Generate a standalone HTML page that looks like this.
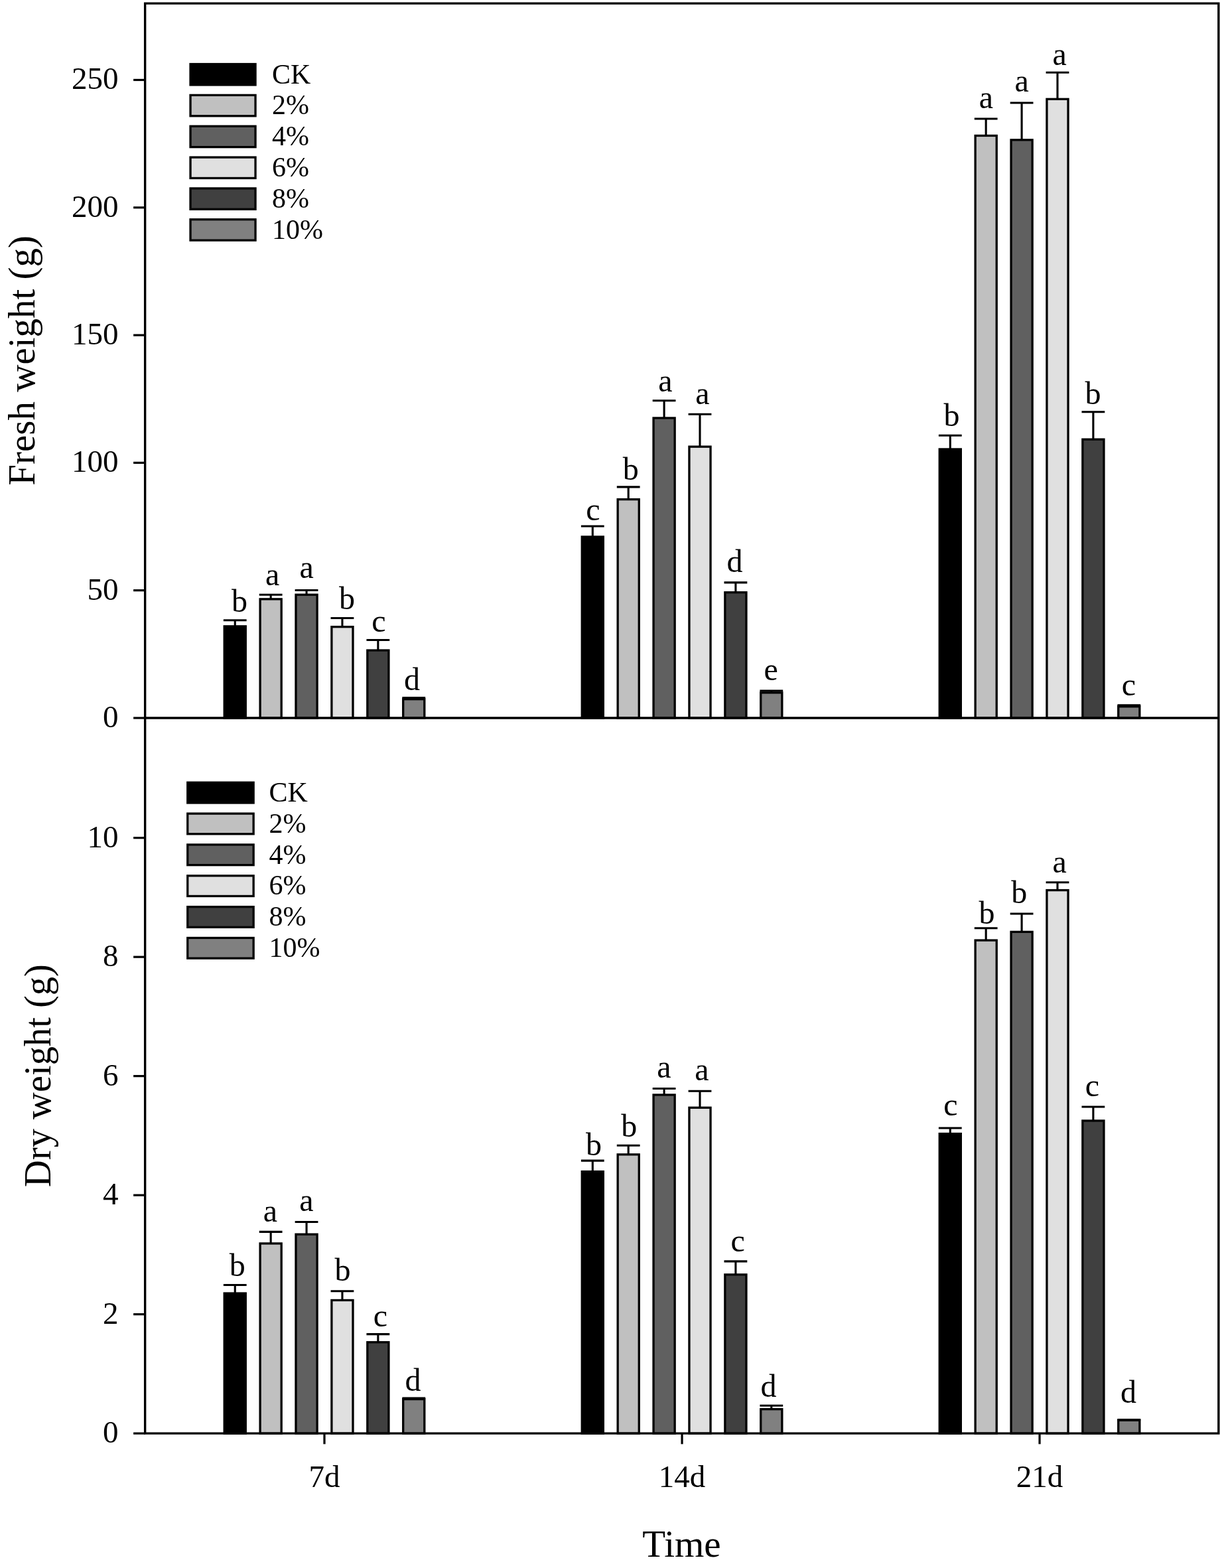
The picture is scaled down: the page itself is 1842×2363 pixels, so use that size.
<!DOCTYPE html>
<html><head><meta charset="utf-8"><title>Fresh and dry weight</title>
<style>html,body{margin:0;padding:0;background:#fff;}body{width:1842px;height:2363px;overflow:hidden;}svg{display:block;}
text{font-family:"Liberation Serif","Times New Roman",serif;fill:#000;}
.l{font-size:48px;text-anchor:middle;}
.t{font-size:47px;text-anchor:end;}
.x{font-size:47px;text-anchor:middle;}
.g{font-size:42px;}
.ti{font-size:57px;text-anchor:middle;}
.o{fill:none;stroke:#000;stroke-width:3.3;}
.e{stroke:#000;stroke-width:3.1;fill:none;}
.k{stroke:#000;stroke-width:3.2;fill:none;}
</style></head><body>
<svg width="1842" height="2363" viewBox="0 0 1842 2363">
<rect width="1842" height="2363" fill="#fff"/>
<rect x="338.2" y="943.85" width="32.1" height="138.15" fill="#000000"/>
<rect x="392.1" y="902.85" width="32.1" height="179.15" fill="#c0c0c0"/>
<rect x="446" y="896.25" width="32.1" height="185.75" fill="#606060"/>
<rect x="499.9" y="944.65" width="32.1" height="137.35" fill="#e0e0e0"/>
<rect x="553.8" y="980.05" width="32.1" height="101.95" fill="#404040"/>
<rect x="607.7" y="1053.65" width="32.1" height="28.35" fill="#808080"/>
<rect x="877.25" y="808.95" width="32.1" height="273.05" fill="#000000"/>
<rect x="931.15" y="752.55" width="32.1" height="329.45" fill="#c0c0c0"/>
<rect x="985.05" y="629.95" width="32.1" height="452.05" fill="#606060"/>
<rect x="1038.95" y="673.15" width="32.1" height="408.85" fill="#e0e0e0"/>
<rect x="1092.85" y="892.75" width="32.1" height="189.25" fill="#404040"/>
<rect x="1146.75" y="1043.85" width="32.1" height="38.15" fill="#808080"/>
<rect x="1416.25" y="676.95" width="32.1" height="405.05" fill="#000000"/>
<rect x="1470.15" y="204.45" width="32.1" height="877.55" fill="#c0c0c0"/>
<rect x="1524.05" y="210.85" width="32.1" height="871.15" fill="#606060"/>
<rect x="1577.95" y="149.35" width="32.1" height="932.65" fill="#e0e0e0"/>
<rect x="1631.85" y="662.15" width="32.1" height="419.85" fill="#404040"/>
<rect x="1685.75" y="1064.75" width="32.1" height="17.25" fill="#808080"/>
<line x1="354.25" y1="943.85" x2="354.25" y2="934.8" class="e"/>
<line x1="336.85" y1="934.8" x2="371.65" y2="934.8" class="e"/>
<line x1="408.15" y1="902.85" x2="408.15" y2="896.3" class="e"/>
<line x1="390.75" y1="896.3" x2="425.55" y2="896.3" class="e"/>
<line x1="462.05" y1="896.25" x2="462.05" y2="889.5" class="e"/>
<line x1="444.65" y1="889.5" x2="479.45" y2="889.5" class="e"/>
<line x1="515.95" y1="944.65" x2="515.95" y2="931.5" class="e"/>
<line x1="498.55" y1="931.5" x2="533.35" y2="931.5" class="e"/>
<line x1="569.85" y1="980.05" x2="569.85" y2="964.5" class="e"/>
<line x1="552.45" y1="964.5" x2="587.25" y2="964.5" class="e"/>
<line x1="623.75" y1="1053.65" x2="623.75" y2="1051.5" class="e"/>
<line x1="606.35" y1="1051.5" x2="641.15" y2="1051.5" class="e"/>
<line x1="893.3" y1="808.95" x2="893.3" y2="793" class="e"/>
<line x1="875.9" y1="793" x2="910.7" y2="793" class="e"/>
<line x1="947.2" y1="752.55" x2="947.2" y2="733.9" class="e"/>
<line x1="929.8" y1="733.9" x2="964.6" y2="733.9" class="e"/>
<line x1="1001.1" y1="629.95" x2="1001.1" y2="603.7" class="e"/>
<line x1="983.7" y1="603.7" x2="1018.5" y2="603.7" class="e"/>
<line x1="1055" y1="673.15" x2="1055" y2="624.2" class="e"/>
<line x1="1037.6" y1="624.2" x2="1072.4" y2="624.2" class="e"/>
<line x1="1108.9" y1="892.75" x2="1108.9" y2="877.9" class="e"/>
<line x1="1091.5" y1="877.9" x2="1126.3" y2="877.9" class="e"/>
<line x1="1162.8" y1="1043.85" x2="1162.8" y2="1041.05" class="e"/>
<line x1="1145.4" y1="1041.05" x2="1180.2" y2="1041.05" class="e"/>
<line x1="1432.3" y1="676.95" x2="1432.3" y2="656.2" class="e"/>
<line x1="1414.9" y1="656.2" x2="1449.7" y2="656.2" class="e"/>
<line x1="1486.2" y1="204.45" x2="1486.2" y2="179" class="e"/>
<line x1="1468.8" y1="179" x2="1503.6" y2="179" class="e"/>
<line x1="1540.1" y1="210.85" x2="1540.1" y2="155" class="e"/>
<line x1="1522.7" y1="155" x2="1557.5" y2="155" class="e"/>
<line x1="1594" y1="149.35" x2="1594" y2="109.2" class="e"/>
<line x1="1576.6" y1="109.2" x2="1611.4" y2="109.2" class="e"/>
<line x1="1647.9" y1="662.15" x2="1647.9" y2="620.8" class="e"/>
<line x1="1630.5" y1="620.8" x2="1665.3" y2="620.8" class="e"/>
<line x1="1701.8" y1="1064.75" x2="1701.8" y2="1062.75" class="e"/>
<line x1="1684.4" y1="1062.75" x2="1719.2" y2="1062.75" class="e"/>
<rect x="338.2" y="943.85" width="32.1" height="138.15" class="o"/>
<rect x="392.1" y="902.85" width="32.1" height="179.15" class="o"/>
<rect x="446" y="896.25" width="32.1" height="185.75" class="o"/>
<rect x="499.9" y="944.65" width="32.1" height="137.35" class="o"/>
<rect x="553.8" y="980.05" width="32.1" height="101.95" class="o"/>
<rect x="607.7" y="1053.65" width="32.1" height="28.35" class="o"/>
<rect x="877.25" y="808.95" width="32.1" height="273.05" class="o"/>
<rect x="931.15" y="752.55" width="32.1" height="329.45" class="o"/>
<rect x="985.05" y="629.95" width="32.1" height="452.05" class="o"/>
<rect x="1038.95" y="673.15" width="32.1" height="408.85" class="o"/>
<rect x="1092.85" y="892.75" width="32.1" height="189.25" class="o"/>
<rect x="1146.75" y="1043.85" width="32.1" height="38.15" class="o"/>
<rect x="1416.25" y="676.95" width="32.1" height="405.05" class="o"/>
<rect x="1470.15" y="204.45" width="32.1" height="877.55" class="o"/>
<rect x="1524.05" y="210.85" width="32.1" height="871.15" class="o"/>
<rect x="1577.95" y="149.35" width="32.1" height="932.65" class="o"/>
<rect x="1631.85" y="662.15" width="32.1" height="419.85" class="o"/>
<rect x="1685.75" y="1064.75" width="32.1" height="17.25" class="o"/>
<text x="361.11" y="921.92" class="l">b</text>
<text x="410.75" y="882.22" class="l">a</text>
<text x="462.1" y="870.82" class="l">a</text>
<text x="522.91" y="917.52" class="l">b</text>
<text x="570.83" y="951.92" class="l">c</text>
<text x="621.12" y="1040.32" class="l">d</text>
<text x="894.03" y="784.32" class="l">c</text>
<text x="950.81" y="722.92" class="l">b</text>
<text x="1003" y="590.42" class="l">a</text>
<text x="1059" y="609.42" class="l">a</text>
<text x="1107.52" y="861.52" class="l">d</text>
<text x="1162.1" y="1025.32" class="l">e</text>
<text x="1434.61" y="641.82" class="l">b</text>
<text x="1486.5" y="163.12" class="l">a</text>
<text x="1540.1" y="137.52" class="l">a</text>
<text x="1597.2" y="97.62" class="l">a</text>
<text x="1647.61" y="608.52" class="l">b</text>
<text x="1701.43" y="1048.02" class="l">c</text>
<rect x="338.2" y="1949.05" width="32.1" height="211.1" fill="#000000"/>
<rect x="392.1" y="1873.95" width="32.1" height="286.2" fill="#c0c0c0"/>
<rect x="446" y="1860.15" width="32.1" height="300" fill="#606060"/>
<rect x="499.9" y="1959.45" width="32.1" height="200.7" fill="#e0e0e0"/>
<rect x="553.8" y="2022.75" width="32.1" height="137.4" fill="#404040"/>
<rect x="607.7" y="2108.55" width="32.1" height="51.6" fill="#808080"/>
<rect x="877.25" y="1765.55" width="32.1" height="394.6" fill="#000000"/>
<rect x="931.15" y="1739.85" width="32.1" height="420.3" fill="#c0c0c0"/>
<rect x="985.05" y="1649.95" width="32.1" height="510.2" fill="#606060"/>
<rect x="1038.95" y="1669.25" width="32.1" height="490.9" fill="#e0e0e0"/>
<rect x="1092.85" y="1920.85" width="32.1" height="239.3" fill="#404040"/>
<rect x="1146.75" y="2123.65" width="32.1" height="36.5" fill="#808080"/>
<rect x="1416.25" y="1708.55" width="32.1" height="451.6" fill="#000000"/>
<rect x="1470.15" y="1417.05" width="32.1" height="743.1" fill="#c0c0c0"/>
<rect x="1524.05" y="1404.35" width="32.1" height="755.8" fill="#606060"/>
<rect x="1577.95" y="1341.55" width="32.1" height="818.6" fill="#e0e0e0"/>
<rect x="1631.85" y="1688.95" width="32.1" height="471.2" fill="#404040"/>
<rect x="1685.75" y="2140.35" width="32.1" height="19.8" fill="#808080"/>
<line x1="354.25" y1="1949.05" x2="354.25" y2="1936.5" class="e"/>
<line x1="336.85" y1="1936.5" x2="371.65" y2="1936.5" class="e"/>
<line x1="408.15" y1="1873.95" x2="408.15" y2="1856.4" class="e"/>
<line x1="390.75" y1="1856.4" x2="425.55" y2="1856.4" class="e"/>
<line x1="462.05" y1="1860.15" x2="462.05" y2="1841.5" class="e"/>
<line x1="444.65" y1="1841.5" x2="479.45" y2="1841.5" class="e"/>
<line x1="515.95" y1="1959.45" x2="515.95" y2="1945.7" class="e"/>
<line x1="498.55" y1="1945.7" x2="533.35" y2="1945.7" class="e"/>
<line x1="569.85" y1="2022.75" x2="569.85" y2="2010.6" class="e"/>
<line x1="552.45" y1="2010.6" x2="587.25" y2="2010.6" class="e"/>
<line x1="623.75" y1="2108.55" x2="623.75" y2="2107.05" class="e"/>
<line x1="606.35" y1="2107.05" x2="641.15" y2="2107.05" class="e"/>
<line x1="893.3" y1="1765.55" x2="893.3" y2="1749.1" class="e"/>
<line x1="875.9" y1="1749.1" x2="910.7" y2="1749.1" class="e"/>
<line x1="947.2" y1="1739.85" x2="947.2" y2="1726.3" class="e"/>
<line x1="929.8" y1="1726.3" x2="964.6" y2="1726.3" class="e"/>
<line x1="1001.1" y1="1649.95" x2="1001.1" y2="1640.5" class="e"/>
<line x1="983.7" y1="1640.5" x2="1018.5" y2="1640.5" class="e"/>
<line x1="1055" y1="1669.25" x2="1055" y2="1644.2" class="e"/>
<line x1="1037.6" y1="1644.2" x2="1072.4" y2="1644.2" class="e"/>
<line x1="1108.9" y1="1920.85" x2="1108.9" y2="1900.9" class="e"/>
<line x1="1091.5" y1="1900.9" x2="1126.3" y2="1900.9" class="e"/>
<line x1="1162.8" y1="2123.65" x2="1162.8" y2="2118.2" class="e"/>
<line x1="1145.4" y1="2118.2" x2="1180.2" y2="2118.2" class="e"/>
<line x1="1432.3" y1="1708.55" x2="1432.3" y2="1700" class="e"/>
<line x1="1414.9" y1="1700" x2="1449.7" y2="1700" class="e"/>
<line x1="1486.2" y1="1417.05" x2="1486.2" y2="1398.7" class="e"/>
<line x1="1468.8" y1="1398.7" x2="1503.6" y2="1398.7" class="e"/>
<line x1="1540.1" y1="1404.35" x2="1540.1" y2="1377" class="e"/>
<line x1="1522.7" y1="1377" x2="1557.5" y2="1377" class="e"/>
<line x1="1594" y1="1341.55" x2="1594" y2="1329.8" class="e"/>
<line x1="1576.6" y1="1329.8" x2="1611.4" y2="1329.8" class="e"/>
<line x1="1647.9" y1="1688.95" x2="1647.9" y2="1668" class="e"/>
<line x1="1630.5" y1="1668" x2="1665.3" y2="1668" class="e"/>
<line x1="1701.8" y1="2140.35" x2="1701.8" y2="2139.65" class="e"/>
<line x1="1684.4" y1="2139.65" x2="1719.2" y2="2139.65" class="e"/>
<rect x="338.2" y="1949.05" width="32.1" height="211.1" class="o"/>
<rect x="392.1" y="1873.95" width="32.1" height="286.2" class="o"/>
<rect x="446" y="1860.15" width="32.1" height="300" class="o"/>
<rect x="499.9" y="1959.45" width="32.1" height="200.7" class="o"/>
<rect x="553.8" y="2022.75" width="32.1" height="137.4" class="o"/>
<rect x="607.7" y="2108.55" width="32.1" height="51.6" class="o"/>
<rect x="877.25" y="1765.55" width="32.1" height="394.6" class="o"/>
<rect x="931.15" y="1739.85" width="32.1" height="420.3" class="o"/>
<rect x="985.05" y="1649.95" width="32.1" height="510.2" class="o"/>
<rect x="1038.95" y="1669.25" width="32.1" height="490.9" class="o"/>
<rect x="1092.85" y="1920.85" width="32.1" height="239.3" class="o"/>
<rect x="1146.75" y="2123.65" width="32.1" height="36.5" class="o"/>
<rect x="1416.25" y="1708.55" width="32.1" height="451.6" class="o"/>
<rect x="1470.15" y="1417.05" width="32.1" height="743.1" class="o"/>
<rect x="1524.05" y="1404.35" width="32.1" height="755.8" class="o"/>
<rect x="1577.95" y="1341.55" width="32.1" height="818.6" class="o"/>
<rect x="1631.85" y="1688.95" width="32.1" height="471.2" class="o"/>
<rect x="1685.75" y="2140.35" width="32.1" height="19.8" class="o"/>
<text x="357.71" y="1922.92" class="l">b</text>
<text x="407.4" y="1841.42" class="l">a</text>
<text x="462" y="1824.52" class="l">a</text>
<text x="516.61" y="1929.72" class="l">b</text>
<text x="573.43" y="1999.22" class="l">c</text>
<text x="622.42" y="2095.92" class="l">d</text>
<text x="894.91" y="1741.22" class="l">b</text>
<text x="948.31" y="1712.62" class="l">b</text>
<text x="1000.9" y="1623.82" class="l">a</text>
<text x="1058" y="1628.02" class="l">a</text>
<text x="1112.23" y="1886.12" class="l">c</text>
<text x="1158.62" y="2104.92" class="l">d</text>
<text x="1433.03" y="1681.42" class="l">c</text>
<text x="1487.61" y="1391.62" class="l">b</text>
<text x="1536.31" y="1360.62" class="l">b</text>
<text x="1597.2" y="1314.82" class="l">a</text>
<text x="1646.53" y="1651.82" class="l">c</text>
<text x="1701.02" y="2114.42" class="l">d</text>
<path d="M218.65 5.15H1836.85V2160.15H218.65Z" fill="none" stroke="#000" stroke-width="3.4" stroke-linejoin="miter"/>
<line x1="218.65" y1="1082" x2="1836.85" y2="1082" stroke="#000" stroke-width="3.4"/>
<line x1="201.1" y1="1082" x2="218.65" y2="1082" class="k"/>
<text x="178.4" y="1096" class="t">0</text>
<line x1="201.1" y1="889.69" x2="218.65" y2="889.69" class="k"/>
<text x="178.4" y="903.69" class="t">50</text>
<line x1="201.1" y1="697.39" x2="218.65" y2="697.39" class="k"/>
<text x="178.4" y="711.39" class="t">100</text>
<line x1="201.1" y1="505.09" x2="218.65" y2="505.09" class="k"/>
<text x="178.4" y="519.09" class="t">150</text>
<line x1="201.1" y1="312.78" x2="218.65" y2="312.78" class="k"/>
<text x="178.4" y="326.78" class="t">200</text>
<line x1="201.1" y1="120.48" x2="218.65" y2="120.48" class="k"/>
<text x="178.4" y="134.48" class="t">250</text>
<line x1="201.1" y1="2160.15" x2="218.65" y2="2160.15" class="k"/>
<text x="178.4" y="2174.15" class="t">0</text>
<line x1="201.1" y1="1980.65" x2="218.65" y2="1980.65" class="k"/>
<text x="178.4" y="1994.65" class="t">2</text>
<line x1="201.1" y1="1801.15" x2="218.65" y2="1801.15" class="k"/>
<text x="178.4" y="1815.15" class="t">4</text>
<line x1="201.1" y1="1621.65" x2="218.65" y2="1621.65" class="k"/>
<text x="178.4" y="1635.65" class="t">6</text>
<line x1="201.1" y1="1442.15" x2="218.65" y2="1442.15" class="k"/>
<text x="178.4" y="1456.15" class="t">8</text>
<line x1="201.1" y1="1262.65" x2="218.65" y2="1262.65" class="k"/>
<text x="178.4" y="1276.65" class="t">10</text>
<line x1="489" y1="2160.15" x2="489" y2="2176.3" class="k"/>
<text x="489" y="2241" class="x">7d</text>
<line x1="1028.05" y1="2160.15" x2="1028.05" y2="2176.3" class="k"/>
<text x="1028.05" y="2241" class="x">14d</text>
<line x1="1567.05" y1="2160.15" x2="1567.05" y2="2176.3" class="k"/>
<text x="1567.05" y="2241" class="x">21d</text>
<rect x="287.05" y="96.55" width="98" height="31.4" fill="#000000" stroke="#000" stroke-width="3.3"/>
<text x="410" y="125.55" class="g">CK</text>
<rect x="287.05" y="143.39" width="98" height="31.4" fill="#c0c0c0" stroke="#000" stroke-width="3.3"/>
<text x="410" y="172.39" class="g">2%</text>
<rect x="287.05" y="190.23" width="98" height="31.4" fill="#606060" stroke="#000" stroke-width="3.3"/>
<text x="410" y="219.23" class="g">4%</text>
<rect x="287.05" y="237.07" width="98" height="31.4" fill="#e0e0e0" stroke="#000" stroke-width="3.3"/>
<text x="410" y="266.07" class="g">6%</text>
<rect x="287.05" y="283.91" width="98" height="31.4" fill="#404040" stroke="#000" stroke-width="3.3"/>
<text x="410" y="312.91" class="g">8%</text>
<rect x="287.05" y="330.75" width="98" height="31.4" fill="#808080" stroke="#000" stroke-width="3.3"/>
<text x="410" y="359.75" class="g">10%</text>
<rect x="282.75" y="1179.25" width="99.4" height="30.7" fill="#000000" stroke="#000" stroke-width="3.3"/>
<text x="405.6" y="1207.9" class="g">CK</text>
<rect x="282.75" y="1226.09" width="99.4" height="30.7" fill="#c0c0c0" stroke="#000" stroke-width="3.3"/>
<text x="405.6" y="1254.74" class="g">2%</text>
<rect x="282.75" y="1272.93" width="99.4" height="30.7" fill="#606060" stroke="#000" stroke-width="3.3"/>
<text x="405.6" y="1301.58" class="g">4%</text>
<rect x="282.75" y="1319.77" width="99.4" height="30.7" fill="#e0e0e0" stroke="#000" stroke-width="3.3"/>
<text x="405.6" y="1348.42" class="g">6%</text>
<rect x="282.75" y="1366.61" width="99.4" height="30.7" fill="#404040" stroke="#000" stroke-width="3.3"/>
<text x="405.6" y="1395.26" class="g">8%</text>
<rect x="282.75" y="1413.45" width="99.4" height="30.7" fill="#808080" stroke="#000" stroke-width="3.3"/>
<text x="405.6" y="1442.1" class="g">10%</text>
<text transform="translate(51.7 543.3) rotate(-90)" class="ti">Fresh weight (g)</text>
<text transform="translate(75.6 1621) rotate(-90)" class="ti" style="font-size:56.5px">Dry weight (g)</text>
<text x="1027.5" y="2345.6" class="ti">Time</text>
</svg></body></html>
